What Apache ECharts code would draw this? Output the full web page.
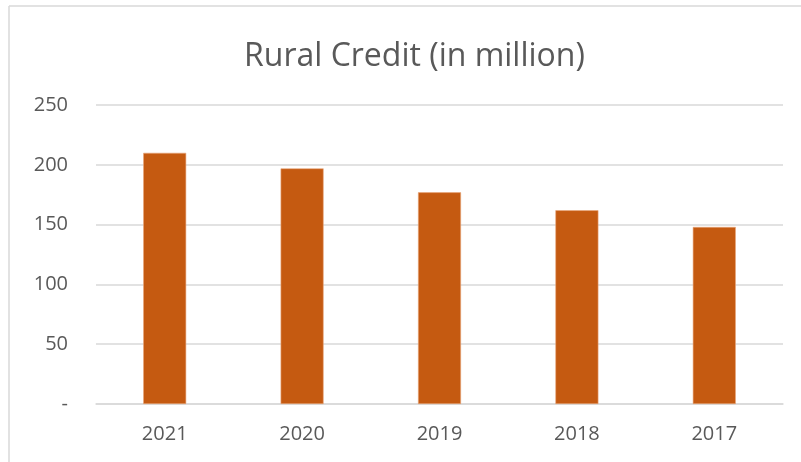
<!DOCTYPE html>
<html>
<head>
<meta charset="utf-8">
<script src="https://cdn.jsdelivr.net/npm/echarts@6/dist/echarts.min.js"></script>
<style>
  html, body { margin: 0; padding: 0; background: #fff; }
  #chart { width: 801px; height: 462px; }
</style>
</head>
<body>
<div id="chart"></div>
<script>
// Rural credit by year, in million
const years = ['2021', '2020', '2019', '2018', '2017'];
const credit = [210, 197, 177, 162, 148];
const yTicks = [0, 50, 100, 150, 200, 250];

const chart = echarts.init(document.getElementById('chart'), null, { renderer: 'canvas' });
const textColor = '#595959';
const fontFamily = '"Open Sans", sans-serif';

chart.setOption({
  animation: false,
  backgroundColor: '#ffffff',
  title: {
    text: 'Rural Credit (in million)',
    left: 239,
    top: 36,
    textStyle: { color: textColor, fontSize: 32, fontWeight: 'normal', fontFamily: fontFamily }
  },
  graphic: [
    { type: 'line', shape: { x1: 9, y1: 6, x2: 801, y2: 6 }, style: { stroke: '#d9d9d9', lineWidth: 1.5 } },
    { type: 'line', shape: { x1: 9, y1: 6, x2: 9, y2: 462 }, style: { stroke: '#d9d9d9', lineWidth: 1.5 } }
  ],
  grid: { left: 96, right: 18, top: 105, bottom: 58, containLabel: false },
  xAxis: {
    type: 'category',
    data: years,
    axisLine: { show: true, lineStyle: { color: '#d9d9d9', width: 1.5 } },
    axisTick: { show: false },
    axisLabel: { color: textColor, fontSize: 20, fontFamily: fontFamily, margin: 20 }
  },
  yAxis: {
    type: 'value',
    min: yTicks[0],
    max: yTicks[yTicks.length - 1],
    interval: 50,
    axisLine: { show: false },
    axisTick: { show: false },
    splitLine: { lineStyle: { color: '#d9d9d9', width: 1.5 } },
    axisLabel: {
      color: textColor, fontSize: 20, fontFamily: fontFamily, margin: 28,
      formatter: v => (v === 0 ? '-' : String(v))
    }
  },
  series: [{
    type: 'bar',
    data: credit,
    barWidth: 43,
    itemStyle: { color: '#c55a11', borderColor: '#e9a77d', borderWidth: 0.6 }
  }]
});
</script>
</body>
</html>
